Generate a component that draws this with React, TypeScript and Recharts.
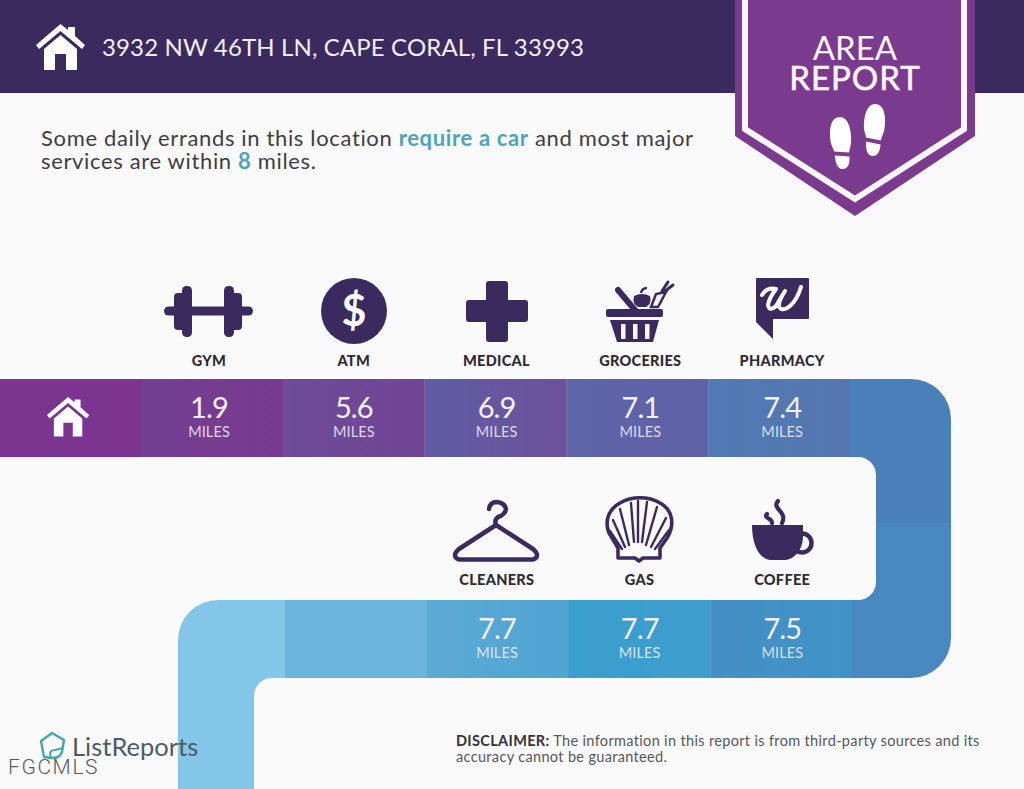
import { Bar, BarChart, Cell, LabelList, XAxis, YAxis } from 'recharts'

const topPlaces = ['GYM', 'ATM', 'MEDICAL', 'GROCERIES', 'PHARMACY']
const topMiles = [1.9, 5.6, 6.9, 7.1, 7.4]
const bottomPlaces = ['CLEANERS', 'GAS', 'COFFEE']
const bottomMiles = [7.7, 7.7, 7.5]

const topGradients = [
  ['#743F92', '#773A8F'],
  ['#6E4C9A', '#704493'],
  ['#5F5DA5', '#6C5199'],
  ['#5E65A9', '#6061A7'],
  ['#4F7AB3', '#5676B1'],
]
const bottomGradients = [
  ['#5BAAD5', '#50A4D1'],
  ['#3A9ECF', '#3D9DCE'],
  ['#458FC5', '#4093C8'],
]

const INK = '#3B2A5E'
const FONT = 'Lato, "Open Sans", sans-serif'

const topData = topPlaces.map((name, i) => ({ name, miles: topMiles[i].toFixed(1) }))
const bottomData = bottomPlaces.map((name, i) => ({ name, miles: bottomMiles[i].toFixed(1) }))

// labels in the top row drift a few px off the tile centres
const labelNudge: Record<string, number> = { GYM: -3, ATM: 0, MEDICAL: 1, GROCERIES: 3, PHARMACY: 3, CLEANERS: -1, GAS: 0, COFFEE: 1 }

const House = ({ x, y, scale }: { x: number; y: number; scale: number }) => (
  <g transform={`translate(${x} ${y}) scale(${scale})`} fill="#fff">
    <path d="M0 21 L24.5 0 L32 6 L32 3 L39 3 L39 12 L49 21 L46 25 L24.5 7 L3 25 Z" />
    <path d="M8 25 L24.5 11 L41 25 L41 46 L30 46 L30 30 L19 30 L19 46 L8 46 Z" />
  </g>
)

const Shoe = ({ x, y, tilt }: { x: number; y: number; tilt: number }) => (
  <g transform={`translate(${x} ${y}) rotate(${tilt})`} fill="#fff">
    <path d="M-10.5 -6 C-10.5 -20 -6 -26 0 -26 C6 -26 10.5 -20 10.5 -6 C10.5 3 8 6 7.5 10 L-7.5 8 C-8 4 -10.5 2 -10.5 -6 Z" />
    <path d="M-7 12 L7.5 14 C7.5 22 5 26 0 26 C-5 26 -7 20 -7 12 Z" />
  </g>
)

const icons: Record<string, JSX.Element> = {
  GYM: (
    <g fill={INK}>
      <rect x={164} y={306.5} width={89} height={9} rx={4.5} />
      <rect x={182} y={286} width={10} height={51} rx={4.5} />
      <rect x={174} y={293} width={12} height={37} rx={4} />
      <rect x={224} y={286} width={10} height={51} rx={4.5} />
      <rect x={230} y={293} width={12} height={37} rx={4} />
    </g>
  ),
  ATM: (
    <g>
      <circle cx={354} cy={311} r={33} fill={INK} />
      <text x={354} y={326} textAnchor="middle" fontSize={43} fontWeight={700} fontFamily={FONT} fill="#fff">$</text>
    </g>
  ),
  MEDICAL: (
    <path
      d="M489 281 H505 Q508 281 508 284 V300 H525 Q528 300 528 303 V319 Q528 322 525 322 H508 V339 Q508 342 505 342 H489 Q486 342 486 339 V322 H469 Q466 322 466 319 V303 Q466 300 469 300 H486 V284 Q486 281 489 281 Z"
      fill={INK}
    />
  ),
  GROCERIES: (
    <g fill={INK}>
      <path d="M618 290 L635 310" stroke={INK} strokeWidth={6} strokeLinecap="round" />
      <rect x={606} y={309} width={57} height={8} rx={2} />
      <path d="M610 320 H659 L653 342 H617 Z" />
      <rect x={621} y={324} width={4.5} height={15} fill="#FBFAFB" />
      <rect x={633} y={324} width={4.5} height={15} fill="#FBFAFB" />
      <rect x={645} y={324} width={4.5} height={15} fill="#FBFAFB" />
      <path d="M634 296 Q642 292 650 296 Q652 304 646 307 H638 Q632 304 634 296 Z" />
      <path d="M641 293 Q642 288 647 288" stroke={INK} strokeWidth={2.5} fill="none" />
      <path d="M651 307 L656 294 L666 292 L658 307 Z" fill="none" stroke={INK} strokeWidth={2.5} />
      <path d="M662 291 L668 282 M664 292 L673 285" stroke={INK} strokeWidth={3} strokeLinecap="round" />
    </g>
  ),
  PHARMACY: (
    <g>
      <path d="M757 278 H808 Q809 278 809 279 V318 Q809 319 808 319 H773 V339 L756 322 V279 Q756 278 757 278 Z" fill={INK} />
      <path
        d="M762 295 Q767 287 776 289 Q769 298 768 305 Q769 312 776 306 L785 291 Q778 302 779 307 Q783 312 790 306 Q797 300 801 287"
        fill="none"
        stroke="#fff"
        strokeWidth={4}
        strokeLinecap="round"
        strokeLinejoin="round"
      />
    </g>
  ),
  CLEANERS: (
    <g fill="none" stroke={INK} strokeWidth={4.5} strokeLinejoin="round" strokeLinecap="round">
      <path d="M489 509 Q490 502 497 502 Q505 503 506 509 Q505 515 498 517 Q494 520 496 525" />
      <path d="M496 525 L533 549 Q541 556 533 559.5 H459 Q451 556 459 549 Z" />
    </g>
  ),
  GAS: (
    <g stroke={INK} fill="none" strokeLinecap="round">
      <path
        d="M618 558 L618 548 L612 538 C603 525 607 510 620 503 C632 496 648 496 660 503 C673 510 675 525 667 538 L660 548 L660 558 L643 558 L639 561 L635 558 Z"
        strokeWidth={3.6}
        strokeLinejoin="round"
      />
      <path
        d="M634 542 L631 503 M638 542 L638 501 M642 542 L647 502 M629 545 L620 509 M646 545 L657 507 M625 547 L613 520 M651 547 L666 518 M622 549 L610 531 M655 549 L669 530"
        strokeWidth={2.4}
      />
    </g>
  ),
  COFFEE: (
    <g>
      <path d="M752 525 H803 V536 C803 550 794 560 784 560 H771 C760 560 752 546 752 525 Z" fill={INK} />
      <circle cx={802} cy={543} r={9.5} fill="none" stroke={INK} strokeWidth={4.5} />
      <path d="M778 501 C771 509 788 511 782 523 M767 514 C763 518 773 519 772 523" fill="none" stroke={INK} strokeWidth={4.2} strokeLinecap="round" />
    </g>
  ),
}

const PlaceTick = ({ x, payload, labelY }: any) => {
  const name: string = payload.value
  return (
    <g>
      {icons[name]}
      <text
        x={x + labelNudge[name]}
        y={labelY}
        textAnchor="middle"
        fontFamily={FONT}
        fontSize={14.5}
        fontWeight={900}
        letterSpacing={0.3}
        fill="#2E2A36"
      >
        {name}
      </text>
    </g>
  )
}

const MilesLabel = ({ x, y, width, value, index, names }: any) => {
  const cx = x + width / 2 + labelNudge[names[index]]
  return (
    <g textAnchor="middle" fontFamily={FONT}>
      <text x={cx} y={y + 39} fontSize={29} fontWeight={400} letterSpacing={-0.9} fill="#F6F0FA">{value}</text>
      <text x={cx} y={y + 58} fontSize={14.5} fontWeight={400} letterSpacing={0.1} fill="#F6F0FA" fillOpacity={0.85}>MILES</text>
    </g>
  )
}

const Row = ({ data, margin, gradient, labelY, names }: any) => (
  <div style={{ position: 'absolute', left: 0, top: 0 }}>
    <BarChart width={1024} height={789} data={data} margin={margin} barCategoryGap={0}>
      <XAxis
        dataKey="name"
        orientation="top"
        height={30}
        axisLine={false}
        tickLine={false}
        interval={0}
        tick={(p: any) => <PlaceTick {...p} labelY={labelY} />}
      />
      <YAxis hide domain={[0, 1]} />
      <Bar dataKey={() => 1} isAnimationActive={false}>
        {data.map((d: any, i: number) => (
          <Cell key={d.name} fill={`url(#${gradient}-${i})`} />
        ))}
        <LabelList dataKey="miles" content={(p: any) => <MilesLabel {...p} names={names} />} />
      </Bar>
    </BarChart>
  </div>
)

const Backdrop = () => (
  <svg width={1024} height={789} style={{ position: 'absolute', left: 0, top: 0 }}>
    <defs>
      {topGradients.map((g, i) => (
        <linearGradient key={i} id={`top-${i}`} x1="0" x2="1" y1="0" y2="0">
          <stop offset="0" stopColor={g[0]} />
          <stop offset="1" stopColor={g[1]} />
        </linearGradient>
      ))}
      {bottomGradients.map((g, i) => (
        <linearGradient key={i} id={`bottom-${i}`} x1="0" x2="1" y1="0" y2="0">
          <stop offset="0" stopColor={g[0]} />
          <stop offset="1" stopColor={g[1]} />
        </linearGradient>
      ))}
    </defs>

    <rect width={1024} height={93} fill={INK} />

    {/* road */}
    <rect x={0} y={379} width={141} height={78} fill="#7B3590" />
    <path d="M850 379 H911 A40 40 0 0 1 951 419 V523 H876 V475 A18 18 0 0 0 858 457 H850 Z" fill="#4A80B8" />
    <path d="M876 523 H951 V638 A40 40 0 0 1 911 678 H852 V600 H858 A18 18 0 0 0 876 582 Z" fill="#4887BF" />
    <rect x={285} y={600} width={142} height={78} fill="#6BB5DD" />
    <path d="M285 600 H218 A40 40 0 0 0 178 640 V789 H254 V696 A18 18 0 0 1 272 678 H285 Z" fill="#84C6E8" />
    <House x={47} y={397} scale={0.86} />

    {/* banner */}
    <path d="M735 0 H975 V136 L855 216 L735 136 Z" fill="#7A3A8E" />
    <path d="M745 0 V129 L855 199 L964 129 V0" fill="none" stroke="#FBF6FC" strokeWidth={6} />
    <Shoe x={841} y={143} tilt={-4} />
    <Shoe x={874} y={130} tilt={4} />

    <House x={36} y={24} scale={1} />
  </svg>
)

const textBase: React.CSSProperties = { position: 'absolute', fontFamily: FONT, whiteSpace: 'nowrap', margin: 0 }

export default function App() {
  return (
    <div style={{ position: 'absolute', left: 0, top: 0, width: 1024, height: 789, background: '#FBFAFB', overflow: 'hidden' }}>
      <Backdrop />
      <Row data={topData} margin={{ left: 141, right: 174, top: 349, bottom: 332 }} gradient="top" labelY={365.5} names={topPlaces} />
      <Row data={bottomData} margin={{ left: 427, right: 172, top: 570, bottom: 111 }} gradient="bottom" labelY={584.5} names={bottomPlaces} />

      <div style={{ ...textBase, left: 102, top: 32, fontSize: 24, color: '#F3EEF6', letterSpacing: 0.13 }}>
        3932 NW 46TH LN, CAPE CORAL, FL 33993
      </div>
      <div style={{ ...textBase, left: 41, top: 126, fontSize: 22, lineHeight: '23px', color: '#3E3D45', letterSpacing: 0.65 }}>
        Some daily errands in this location <b style={{ color: '#4BA6B6' }}>require a car</b> and most major
        <br />
        services are within <b style={{ color: '#4BA6B6' }}>8</b> miles.
      </div>
      <div style={{ ...textBase, left: 735, width: 240, top: 32, fontSize: 33, lineHeight: '30px', textAlign: 'center', color: '#FBF6FC' }}>
        AREA
        <br />
        <span style={{ letterSpacing: 1, WebkitTextStroke: '0.6px #FBF6FC' }}>REPORT</span>
      </div>

      <svg width={30} height={30} style={{ position: 'absolute', left: 38, top: 731 }}>
        <path d="M3 10 L14 2 L26 9 L24 21 Q22 27 14 27 L6 26 Z" fill="none" stroke="#3FA9A8" strokeWidth={2.4} strokeLinejoin="round" />
        <path d="M13 27 Q10 19 17 19 L25 17" fill="none" stroke="#3FA9A8" strokeWidth={2} />
      </svg>
      <div style={{ ...textBase, left: 72, top: 731, fontSize: 25.5, color: '#4D5B66' }}>ListReports</div>
      <div style={{ ...textBase, left: 8, top: 755, fontSize: 21, color: '#59585C', fontFamily: 'Roboto, sans-serif', fontWeight: 300, letterSpacing: 1.6 }}>FGCMLS</div>
      <div style={{ ...textBase, left: 456, top: 733, fontSize: 14.5, lineHeight: '16px', color: '#57565C', letterSpacing: 0.34 }}>
        <b style={{ color: '#333238' }}>DISCLAIMER:</b> The information in this report is from third-party sources and its
        <br />
        accuracy cannot be guaranteed.
      </div>
    </div>
  )
}
